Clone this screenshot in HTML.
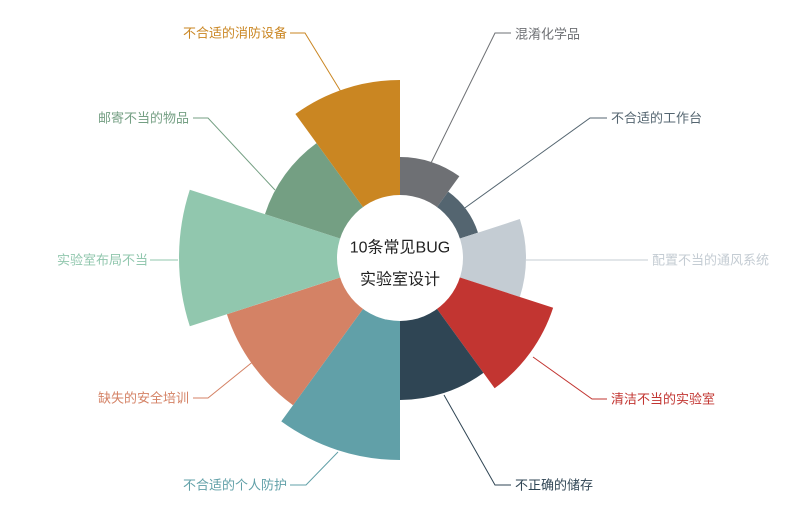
<!DOCTYPE html>
<html><head><meta charset="utf-8"><style>
html,body{margin:0;padding:0;background:#fff;}
svg{display:block}
text{font-family:"Liberation Sans","Noto Sans CJK SC",sans-serif;font-size:13px;dominant-baseline:central}
</style></head><body>
<svg id="s" width="800" height="532" viewBox="0 0 800 532" xmlns="http://www.w3.org/2000/svg">
<g id="w"></g>
<circle cx="400" cy="258" r="63" fill="#fff"/>
<text x="400" y="248" text-anchor="middle" style="font-size:16px" fill="#222">10条常见BUG</text>
<text x="400" y="280" text-anchor="middle" style="font-size:16px" fill="#222">实验室设计</text>
<g fill="none" stroke-width="1">
<polyline points="430,165 495,33 511,33" stroke="#6e7074"/>
<polyline points="462,210 590,118 607,118" stroke="#546570"/>
<polyline points="526,260 648,260" stroke="#c4ccd3"/>
<polyline points="533,357 592,399 607,399" stroke="#c23531"/>
<polyline points="444,395 495,485 511,485" stroke="#2f4554"/>
<polyline points="338,452 306,485 290,485" stroke="#61a0a8"/>
<polyline points="255,360 208,398 193,398" stroke="#d48265"/>
<polyline points="178,260 150,260" stroke="#91c7ae"/>
<polyline points="275,190 208,118 193,118" stroke="#749f83"/>
<polyline points="346,100 305,33 290,33" stroke="#ca8622"/>
</g>
<text x="515" y="34" fill="#6e7074">混淆化学品</text>
<text x="611" y="118" fill="#546570">不合适的工作台</text>
<text x="652" y="260" fill="#c4ccd3">配置不当的通风系统</text>
<text x="611" y="399" fill="#c23531">清洁不当的实验室</text>
<text x="515" y="485" fill="#2f4554">不正确的储存</text>
<text x="287" y="485" text-anchor="end" fill="#61a0a8">不合适的个人防护</text>
<text x="189" y="398" text-anchor="end" fill="#d48265">缺失的安全培训</text>
<text x="148" y="260" text-anchor="end" fill="#91c7ae">实验室布局不当</text>
<text x="189" y="118" text-anchor="end" fill="#749f83">邮寄不当的物品</text>
<text x="287" y="33" text-anchor="end" fill="#ca8622">不合适的消防设备</text>
</svg>
<script>
var cx=400,cy=258,r0=40;
var data=[[101,"#6e7074"],[82,"#546570"],[126,"#c4ccd3"],[161,"#c23531"],[142,"#2f4554"],[202,"#61a0a8"],[182,"#d48265"],[221,"#91c7ae"],[142,"#749f83"],[178,"#ca8622"]];
function p(r,a){a=a*Math.PI/180;return (cx+r*Math.sin(a)).toFixed(2)+","+(cy-r*Math.cos(a)).toFixed(2);}
var h="";
data.forEach(function(d,i){var a0=i*36,a1=a0+36,r=d[0];
h+='<path fill="'+d[1]+'" d="M'+p(r0,a0)+' L'+p(r,a0)+' A'+r+','+r+' 0 0 1 '+p(r,a1)+' L'+p(r0,a1)+' A'+r0+','+r0+' 0 0 0 '+p(r0,a0)+'Z"/>';});
document.getElementById("w").innerHTML=h;
</script>
</body></html>
